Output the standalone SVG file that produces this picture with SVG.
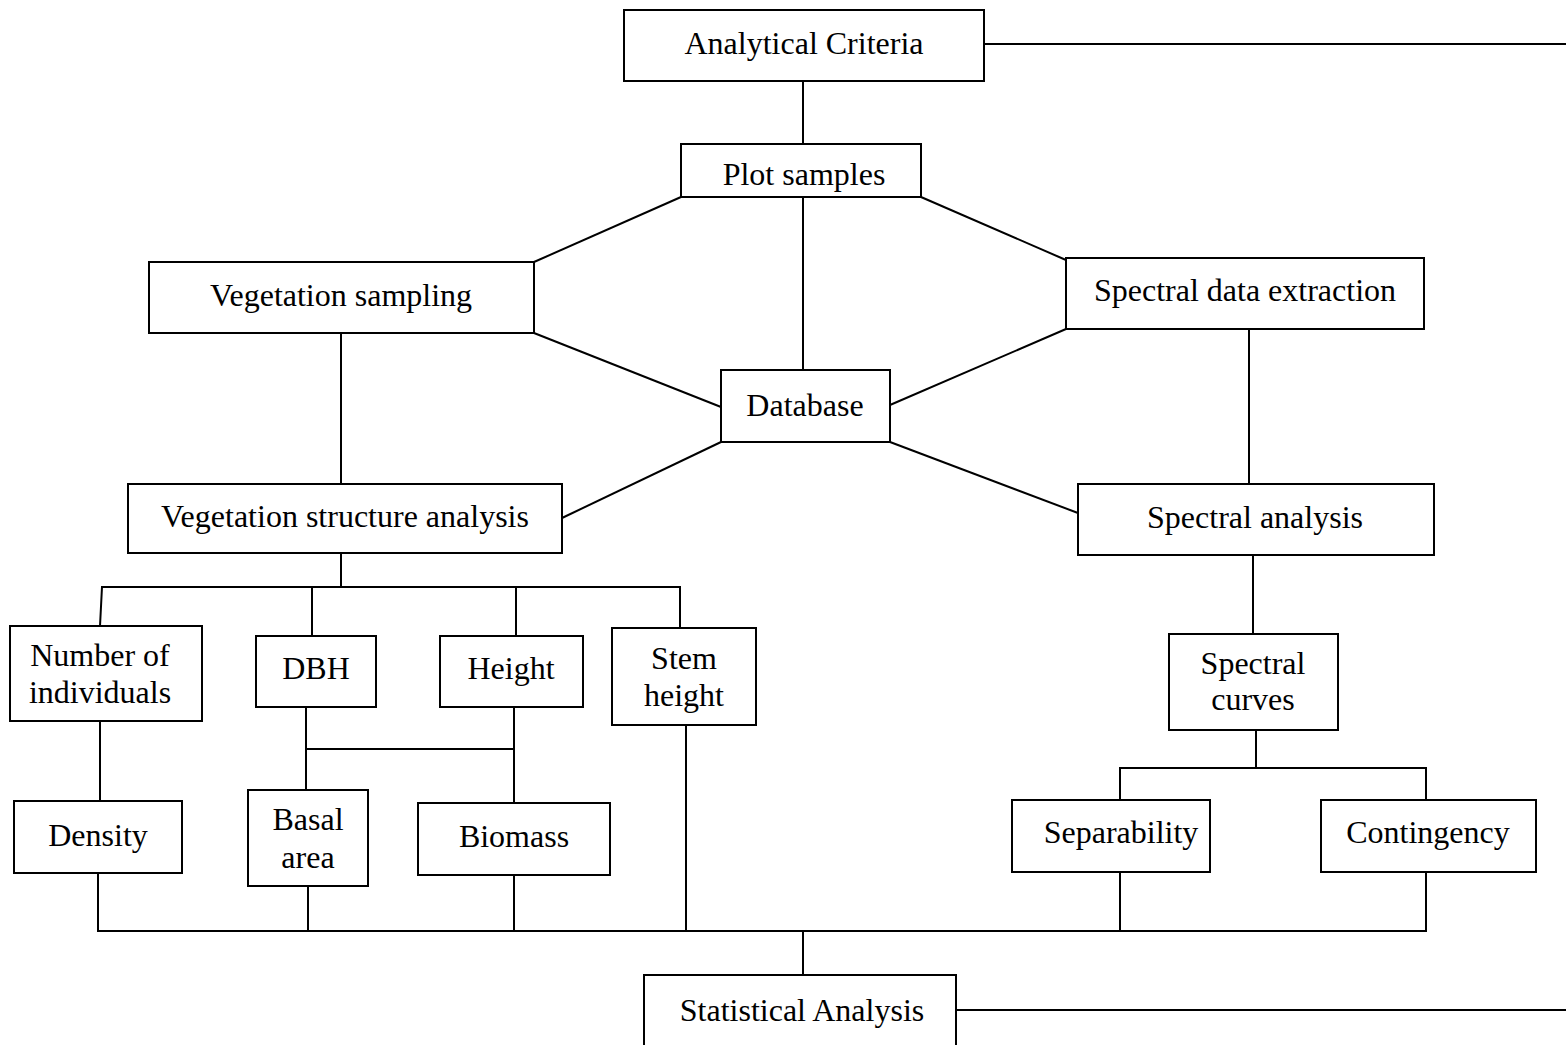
<svg xmlns="http://www.w3.org/2000/svg" width="1566" height="1045" viewBox="0 0 1566 1045">
<style>
rect{fill:#fff;stroke:#000;stroke-width:2}
line,polyline{stroke:#000;stroke-width:2;fill:none}
text{font-family:"Liberation Serif","Times New Roman",serif;font-size:32px;fill:#000;text-anchor:middle}
</style>
<rect x="0" y="0" width="1566" height="1045" style="stroke:none"/>
<g id="connectors">
<line x1="984" y1="44" x2="1566" y2="44"/>
<line x1="803" y1="81" x2="803" y2="144"/>
<line x1="681" y1="197" x2="534" y2="262"/>
<line x1="921" y1="197" x2="1066" y2="260"/>
<line x1="803" y1="197" x2="803" y2="370"/>
<line x1="534" y1="333" x2="721" y2="407"/>
<line x1="890" y1="405" x2="1066" y2="329"/>
<line x1="721" y1="442" x2="562" y2="518"/>
<line x1="890" y1="442" x2="1078" y2="513"/>
<line x1="341" y1="333" x2="341" y2="484"/>
<line x1="1249" y1="329" x2="1249" y2="484"/>
<line x1="341" y1="553" x2="341" y2="587"/>
<polyline points="100,626 102,587 680,587 680,628"/>
<line x1="312" y1="587" x2="312" y2="636"/>
<line x1="516" y1="587" x2="516" y2="636"/>
<line x1="100" y1="721" x2="100" y2="801"/>
<line x1="306" y1="707" x2="306" y2="790"/>
<line x1="306" y1="749" x2="514" y2="749"/>
<line x1="514" y1="707" x2="514" y2="803"/>
<line x1="1253" y1="555" x2="1253" y2="634"/>
<line x1="1256" y1="730" x2="1256" y2="768"/>
<polyline points="1120,800 1120,768 1426,768 1426,800"/>
<polyline points="98,873 98,931 1426,931 1426,872"/>
<line x1="308" y1="886" x2="308" y2="931"/>
<line x1="514" y1="875" x2="514" y2="931"/>
<line x1="686" y1="725" x2="686" y2="931"/>
<line x1="1120" y1="872" x2="1120" y2="931"/>
<line x1="803" y1="931" x2="803" y2="975"/>
<line x1="956" y1="1010" x2="1566" y2="1010"/>
</g>
<g id="analytical-criteria"><rect x="624" y="10" width="360" height="71"/><text x="804" y="54">Analytical Criteria</text></g>
<g id="plot-samples"><rect x="681" y="144" width="240" height="53"/><text x="804" y="185">Plot samples</text></g>
<g id="vegetation-sampling"><rect x="149" y="262" width="385" height="71"/><text x="341" y="306">Vegetation sampling</text></g>
<g id="spectral-data-extraction"><rect x="1066" y="258" width="358" height="71"/><text x="1245" y="301">Spectral data extraction</text></g>
<g id="database"><rect x="721" y="370" width="169" height="72"/><text x="805" y="416">Database</text></g>
<g id="vegetation-structure-analysis"><rect x="128" y="484" width="434" height="69"/><text x="345" y="527">Vegetation structure analysis</text></g>
<g id="spectral-analysis"><rect x="1078" y="484" width="356" height="71"/><text x="1255" y="528">Spectral analysis</text></g>
<g id="number-of-individuals"><rect x="10" y="626" width="192" height="95"/><text x="100" y="666">Number of</text><text x="100" y="703">individuals</text></g>
<g id="dbh"><rect x="256" y="636" width="120" height="71"/><text x="316" y="679">DBH</text></g>
<g id="height"><rect x="440" y="636" width="143" height="71"/><text x="511" y="679">Height</text></g>
<g id="stem-height"><rect x="612" y="628" width="144" height="97"/><text x="684" y="669">Stem</text><text x="684" y="706">height</text></g>
<g id="density"><rect x="14" y="801" width="168" height="72"/><text x="98" y="846">Density</text></g>
<g id="basal-area"><rect x="248" y="790" width="120" height="96"/><text x="308" y="830">Basal</text><text x="308" y="868">area</text></g>
<g id="biomass"><rect x="418" y="803" width="192" height="72"/><text x="514" y="847">Biomass</text></g>
<g id="spectral-curves"><rect x="1169" y="634" width="169" height="96"/><text x="1253" y="674">Spectral</text><text x="1253" y="710">curves</text></g>
<g id="separability"><rect x="1012" y="800" width="198" height="72"/><text x="1121" y="843">Separability</text></g>
<g id="contingency"><rect x="1321" y="800" width="215" height="72"/><text x="1428" y="843">Contingency</text></g>
<g id="statistical-analysis"><rect x="644" y="975" width="312" height="80"/><text x="802" y="1021">Statistical Analysis</text></g>
</svg>
